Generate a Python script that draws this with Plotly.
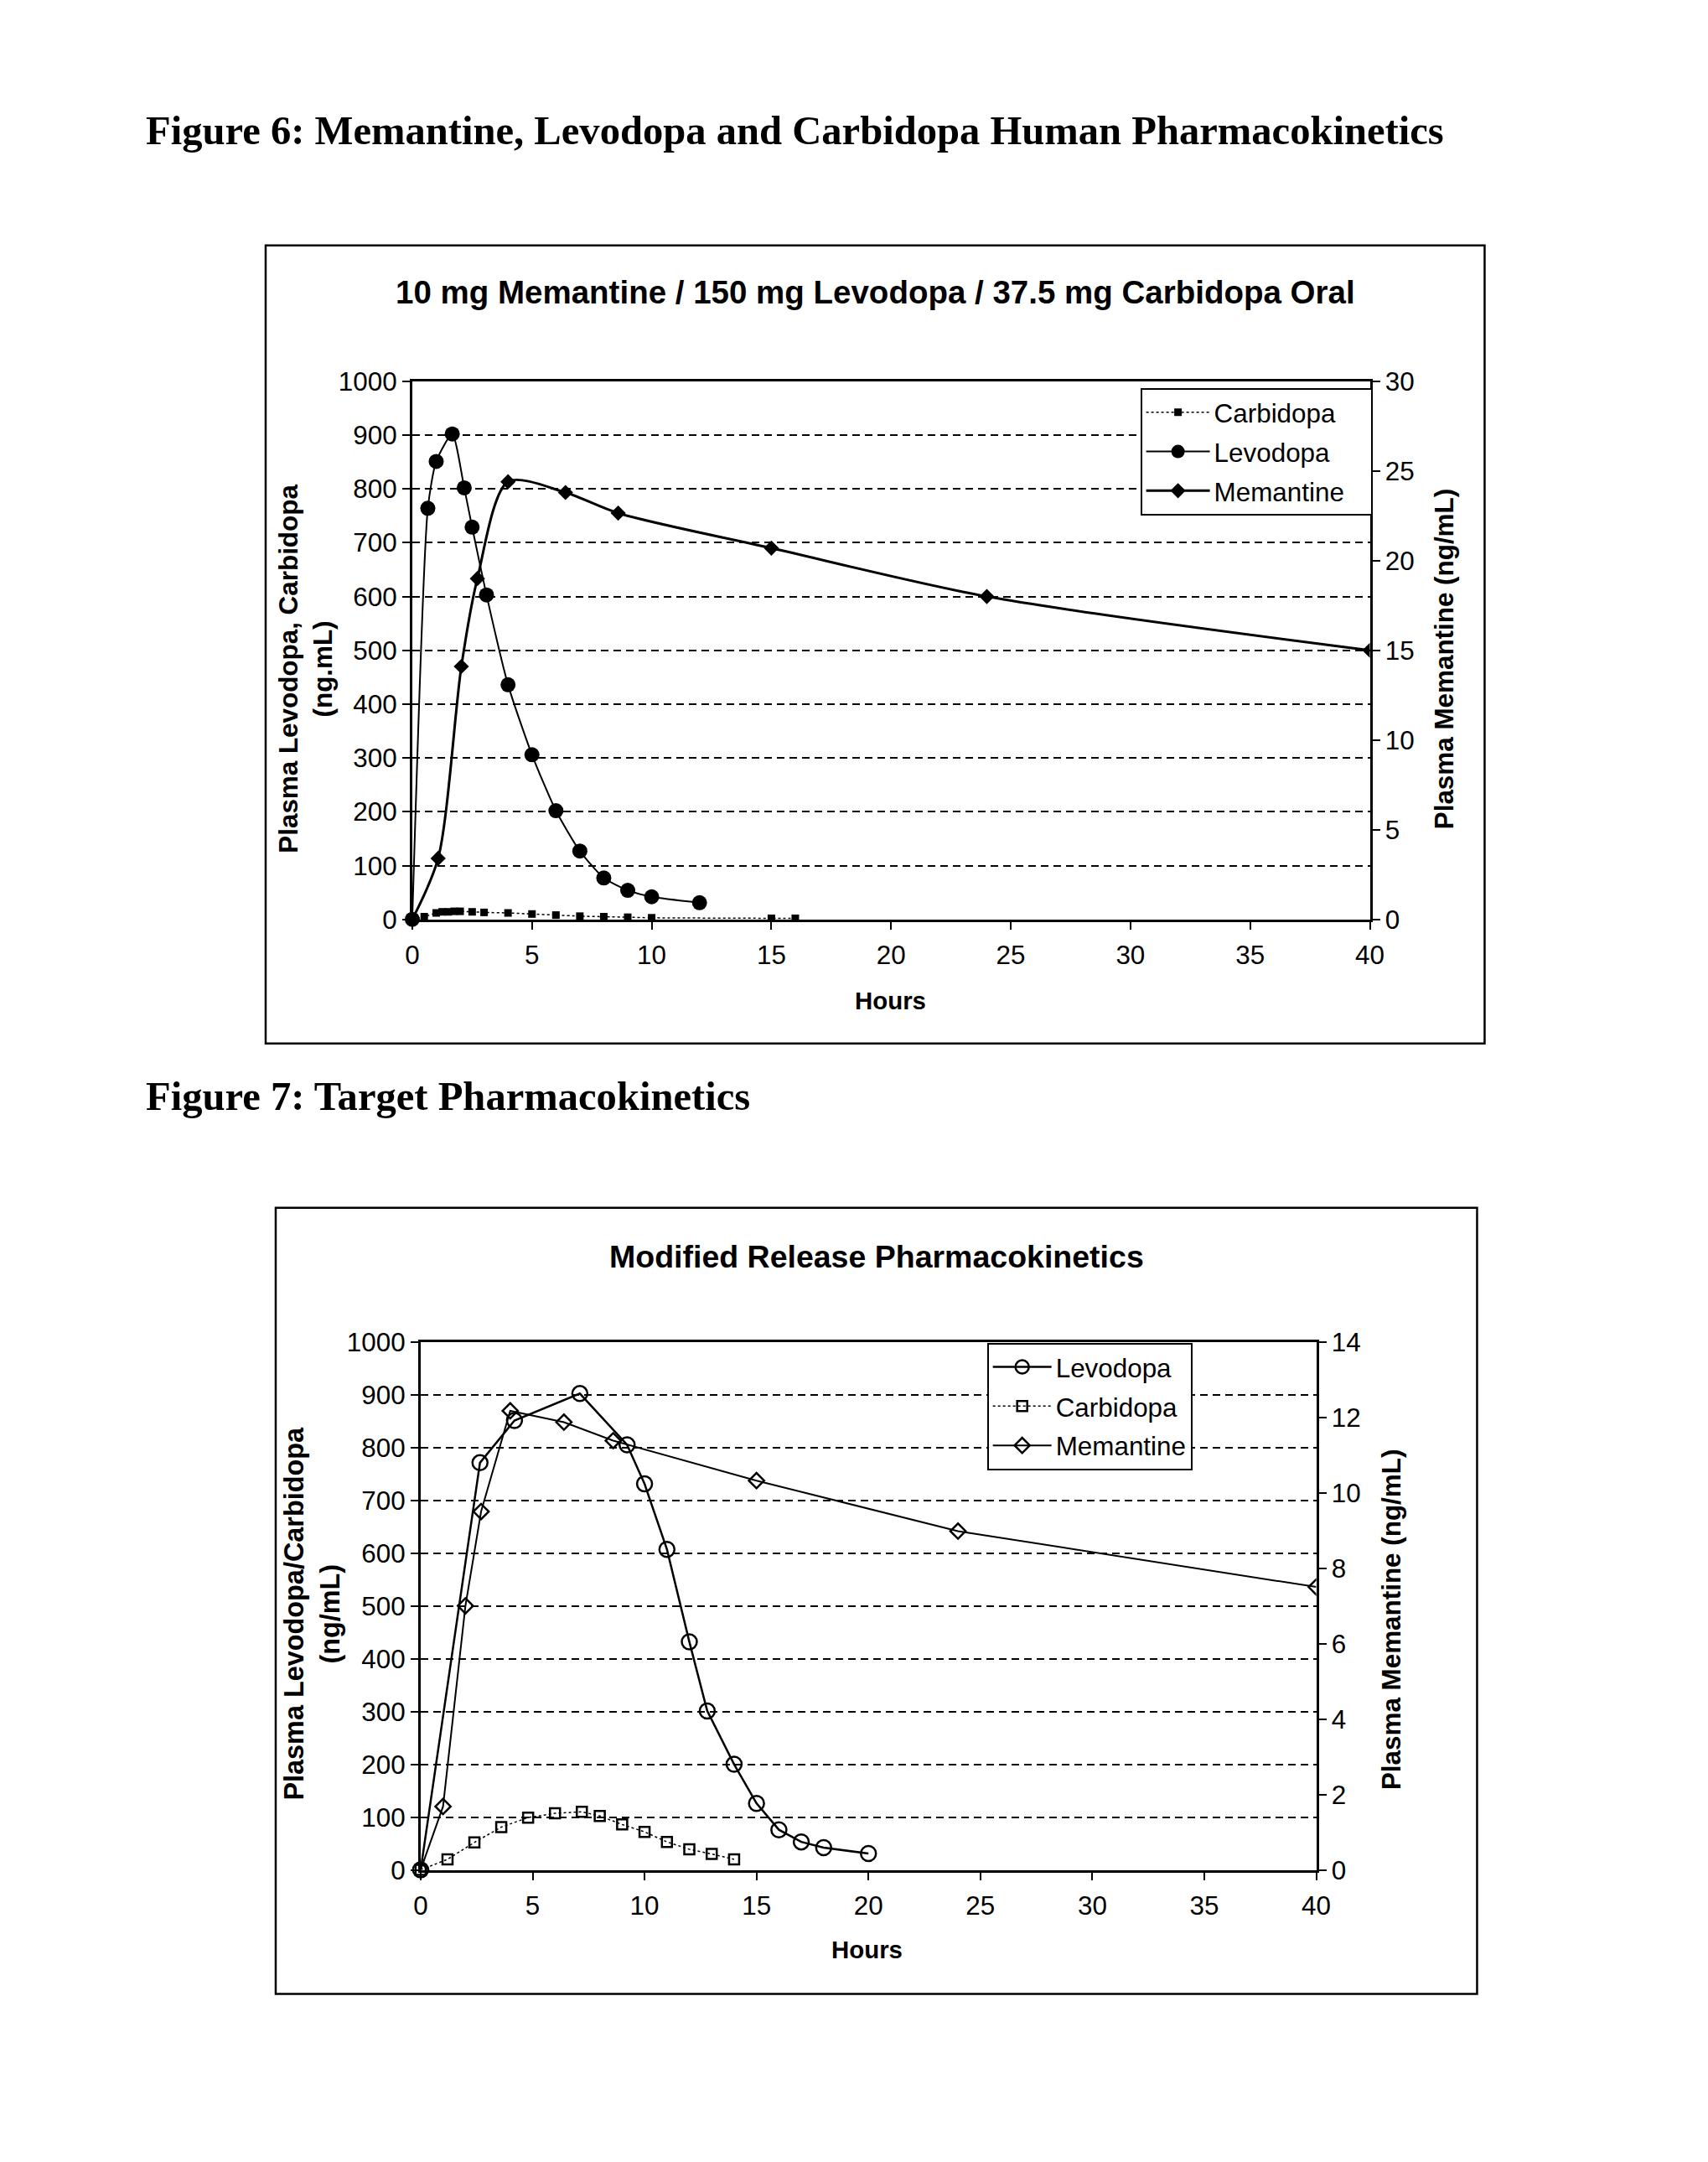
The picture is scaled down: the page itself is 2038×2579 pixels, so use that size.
import plotly.graph_objects as go

W, H = 2038, 2579

# Figure 6 data (hours / ng/mL)
levodopa6_t = [0, 0.65, 1.0, 1.67, 2.17, 2.5, 3.1, 4, 5, 6, 7, 8, 9, 10, 12]
levodopa6 = [0, 764, 851, 902, 802, 729, 603, 436, 306, 202, 127, 77, 54, 42, 31]
carbidopa6_t = [0, 0.5, 1, 1.25, 1.5, 1.75, 2, 2.5, 3, 4, 5, 6, 7, 8, 9, 10, 15, 16]
carbidopa6 = [0, 5, 12, 14, 14, 15, 15, 14, 13, 12, 10, 8, 6, 5, 4, 3, 2, 2]
memantine6_t = [0, 1.08, 2.05, 2.72, 4, 6.4, 8.6, 15, 24, 40]
memantine6 = [0, 3.4, 14.1, 19.0, 24.4, 23.8, 22.65, 20.7, 18.0, 15.0]

# Figure 7 data
levodopa7_t = [0, 2.65, 4.19, 7.11, 9.22, 10, 11, 12, 12.8, 14, 15, 16, 17, 18, 20]
levodopa7 = [0, 771, 851, 902, 805, 731, 607, 432, 301, 200, 126, 76, 53, 42, 31]
carbidopa7_t = [0, 1.2, 2.4, 3.6, 4.8, 6, 7.2, 8, 9, 10, 11, 12, 13, 14]
carbidopa7 = [0, 20, 52, 81, 99, 107, 110, 102, 86, 72, 53, 39, 30, 20]
memantine7_t = [0, 1, 2, 2.7, 4, 6.4, 8.6, 15, 24, 40]
memantine7 = [0, 1.68, 7.0, 9.5, 12.17, 11.87, 11.38, 10.32, 8.98, 7.5]

hour_ticks = [0, 5, 10, 15, 20, 25, 30, 35, 40]

SANS = "Liberation Sans, Arial, sans-serif"
SERIF = "Liberation Serif, Times New Roman, serif"

# the page shot comes out slightly shrunk and offset; measured on earlier runs
SX, SY, OX, OY = 0.9876, 0.9866, 8.9, 17.1
K = 1 / SX
PAD = "\u00a0\u00a0\u00a0"  # extra room at the right of the first legend box


def px(x):
    return ((x - OX) / SX) / W


def py(y):
    return 1 - ((y - OY) / SY) / H


def fs(n):
    return round(n * K, 1)


fig = go.Figure()

# ---- Figure 6 traces
fig.add_trace(go.Scatter(x=carbidopa6_t, y=carbidopa6, name="Carbidopa" + PAD, mode="lines+markers",
                         line=dict(color="black", width=1.5, dash="dot", shape="spline", smoothing=0.6),
                         marker=dict(symbol="square", size=9, color="black"),
                         cliponaxis=False, xaxis="x", yaxis="y", legend="legend", legendgroup="c6"))
fig.add_trace(go.Scatter(x=levodopa6_t, y=levodopa6, name="Levodopa" + PAD, mode="lines+markers",
                         line=dict(color="black", width=2, shape="spline", smoothing=0.6),
                         marker=dict(symbol="circle", size=18, color="black"),
                         cliponaxis=False, xaxis="x", yaxis="y", legend="legend", legendgroup="l6"))
fig.add_trace(go.Scatter(x=memantine6_t, y=memantine6, name="Memantine" + PAD, mode="lines+markers",
                         line=dict(color="black", width=3, shape="spline", smoothing=0.8),
                         marker=dict(symbol="diamond", size=14, color="black"),
                         xaxis="x", yaxis="y2", legend="legend", legendgroup="m6"))

# ---- Figure 7 traces
fig.add_trace(go.Scatter(x=levodopa7_t, y=levodopa7, name="Levodopa", mode="lines+markers",
                         line=dict(color="black", width=2.5),
                         marker=dict(symbol="circle-open", size=18, color="black", line=dict(width=2.5)),
                         cliponaxis=False, xaxis="x2", yaxis="y3", legend="legend2", legendgroup="l7"))
fig.add_trace(go.Scatter(x=carbidopa7_t, y=carbidopa7, name="Carbidopa", mode="lines+markers",
                         line=dict(color="black", width=1.5, dash="dot"),
                         marker=dict(symbol="square-open", size=12, color="black", line=dict(width=2.5)),
                         cliponaxis=False, xaxis="x2", yaxis="y3", legend="legend2", legendgroup="c7"))
fig.add_trace(go.Scatter(x=memantine7_t, y=memantine7, name="Memantine", mode="lines+markers",
                         line=dict(color="black", width=2),
                         marker=dict(symbol="diamond-open", size=14, color="black", line=dict(width=2.5)),
                         xaxis="x2", yaxis="y4", legend="legend2", legendgroup="m7"))

tickfont = dict(family=SANS, size=fs(31), color="black")
xcommon = dict(range=[0, 40], tickvals=hour_ticks, showgrid=False, zeroline=False,
               showline=True, linecolor="black", linewidth=3, mirror=True,
               ticks="outside", ticklen=9, tickwidth=2, tickcolor="black", tickfont=tickfont,
               ticklabelstandoff=4)
yleft = dict(range=[0, 1000], dtick=100, showgrid=True, gridcolor="black", gridwidth=2,
             griddash="9px,6px", zeroline=False, showline=True, linecolor="black", linewidth=3,
             ticks="outside", ticklen=9, tickwidth=2, tickcolor="black", tickfont=tickfont)
yright = dict(showgrid=False, zeroline=False, showline=True, linecolor="black", linewidth=3,
              side="right", ticks="outside", ticklen=9, tickwidth=2, tickcolor="black",
              tickfont=tickfont)
legend_style = dict(xanchor="left", yanchor="top", bgcolor="white", bordercolor="black",
                    borderwidth=2, font=dict(family=SANS, size=fs(31), color="black"),
                    tracegroupgap=3)

fig.update_layout(
    width=W, height=H, margin=dict(l=0, r=0, t=0, b=0),
    paper_bgcolor="white", plot_bgcolor="white",
    xaxis=dict(domain=[px(492), px(1635)], anchor="y", **xcommon),
    yaxis=dict(domain=[py(1097), py(455)], anchor="x", **yleft),
    yaxis2=dict(overlaying="y", anchor="x", range=[0, 30], dtick=5, **yright),
    xaxis2=dict(domain=[px(502), px(1571)], anchor="y3", **xcommon),
    yaxis3=dict(domain=[py(2231), py(1601)], anchor="x2", **yleft),
    yaxis4=dict(overlaying="y3", anchor="x2", range=[0, 14], dtick=2, **yright),
    legend=dict(x=px(1361), y=py(463), itemwidth=76, **legend_style),
    legend2=dict(x=px(1178), y=py(1602), itemwidth=70, **legend_style),
    showlegend=True,
)

# chart frames
fig.add_shape(type="rect", xref="paper", yref="paper", x0=px(317), x1=px(1772), y0=py(1245), y1=py(293),
              line=dict(color="black", width=2.5), layer="below")
fig.add_shape(type="rect", xref="paper", yref="paper", x0=px(329), x1=px(1763), y0=py(2379), y1=py(1441),
              line=dict(color="black", width=2.5), layer="below")

cap = dict(family=SERIF, size=fs(48), color="black")
annos = [
    dict(text="<b>Figure 6: Memantine, Levodopa and Carbidopa Human Pharmacokinetics</b>",
         x=px(172), y=py(156), xanchor="left", font=cap),
    dict(text="<b>Figure 7: Target Pharmacokinetics</b>",
         x=px(172), y=py(1308), xanchor="left", font=cap),
    dict(text="<b>10 mg Memantine / 150 mg Levodopa / 37.5 mg Carbidopa Oral</b>",
         x=px(1045), y=py(349), font=dict(family=SANS, size=fs(38), color="black")),
    dict(text="<b>Modified Release Pharmacokinetics</b>",
         x=px(1046), y=py(1499), font=dict(family=SANS, size=fs(37), color="black")),
    dict(text="<b>Plasma Levodopa, Carbidopa<br>(ng.mL)</b>", textangle=-90,
         x=px(365), y=py(798), font=dict(family=SANS, size=fs(31), color="black")),
    dict(text="<b>Plasma Memantine (ng/mL)</b>", textangle=-90,
         x=px(1724), y=py(786), font=dict(family=SANS, size=fs(31), color="black")),
    dict(text="<b>Hours</b>", x=px(1063), y=py(1194), font=dict(family=SANS, size=fs(29), color="black")),
    dict(text="<b>Plasma Levodopa/Carbidopa<br>(ng/mL)</b>", textangle=-90,
         x=px(372), y=py(1925), font=dict(family=SANS, size=fs(32), color="black")),
    dict(text="<b>Plasma Memantine (ng/mL)</b>", textangle=-90,
         x=px(1661), y=py(1933), font=dict(family=SANS, size=fs(31), color="black")),
    dict(text="<b>Hours</b>", x=px(1035), y=py(2326), font=dict(family=SANS, size=fs(29), color="black")),
]
for a in annos:
    a.setdefault("xanchor", "center")
    fig.add_annotation(xref="paper", yref="paper", showarrow=False, yanchor="middle", **a)

fig.write_html("out.html", config={"displayModeBar": False},
               post_script="document.body.style.margin='0px';")
